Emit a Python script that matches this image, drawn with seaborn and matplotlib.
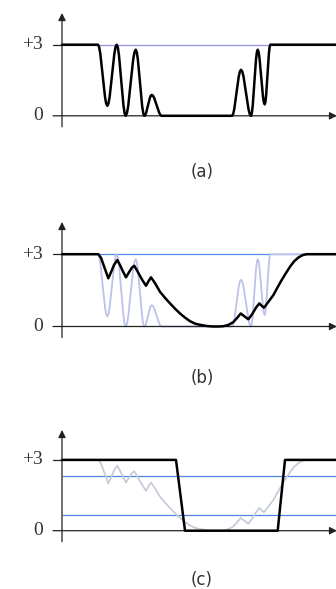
import numpy as np
import pandas as pd
import matplotlib
matplotlib.use("Agg")
import matplotlib.pyplot as plt
import seaborn as sns

# horizontal position along the signal (0 = vertical axis)
sig_a_t = [0, 36, 37.16, 38.3, 40.65, 43.0, 44.14, 45.3, 46.48, 47.65, 50.0, 52.35, 53.52, 54.7,
           55.83, 56.95, 59.2, 61.45, 62.58, 63.7, 64.95, 66.2, 68.7, 71.2, 72.45, 73.7,
           74.78, 75.85, 78.0, 80.15, 81.23, 82.3, 83.23, 84.15, 86.0, 87.85, 88.78, 89.7,
           90.95, 92.2, 94.7, 97.2, 98.45, 99.7, 170, 171.13, 172.25, 174.5, 176.75, 177.88, 179,
           180.25, 181.5, 184, 186.5, 187.75, 189, 189.84, 190.7, 192.35, 194.0, 194.86, 195.7,
           196.58, 197.45, 199.2, 200.95, 201.83, 202.7, 203.4, 204.1, 205.5, 206.9, 207.6,
           208.3, 274]
sig_a_v = [3, 3, 2.90, 2.62, 1.71, 0.80, 0.52, 0.42, 0.52, 0.80, 1.71, 2.62, 2.90, 3.0,
           2.89, 2.56, 1.5, 0.44, 0.11, 0, 0.11, 0.41, 1.40, 2.38, 2.68, 2.79,
           2.68, 2.38, 1.40, 0.41, 0.11, 0, 0.03, 0.13, 0.44, 0.75, 0.85, 0.88,
           0.85, 0.75, 0.44, 0.13, 0.03, 0, 0, 0.07, 0.28, 0.97, 1.66, 1.87, 1.94,
           1.87, 1.66, 0.97, 0.28, 0.07, 0, 0.11, 0.41, 1.40, 2.38, 2.68, 2.79,
           2.70, 2.45, 1.64, 0.82, 0.57, 0.48, 0.58, 0.85, 1.74, 2.63, 2.90,
           3, 3]

# smoothed signal
sig_b_t = [0, 36.3, 39, 42, 46.3, 49, 52, 55.3, 58, 61, 64, 67, 70, 72.3, 76, 80, 84, 86.5, 89,
           93, 98, 103, 108, 113, 118, 123, 128, 133, 138, 145, 151, 156, 161, 166, 171, 175,
           178.7, 182.5, 186.3, 190, 194, 197.3, 199.7, 202, 206, 211.3, 215.5, 219.7, 224, 228,
           232, 236.3, 240.5, 244.7, 274]
sig_b_v = [3, 3, 2.85, 2.5, 2.0, 2.25, 2.55, 2.76, 2.55, 2.28, 2.04, 2.25, 2.45, 2.52, 2.25,
           1.95, 1.69, 1.88, 2.04, 1.80, 1.44, 1.19, 0.96, 0.74, 0.54, 0.37, 0.22, 0.12, 0.07,
           0.02, 0, 0, 0.01, 0.06, 0.17, 0.35, 0.54, 0.42, 0.30, 0.50, 0.78, 0.96, 0.86, 0.78,
           1.0, 1.30, 1.62, 1.93, 2.22, 2.48, 2.70, 2.86, 2.96, 3.0, 3]

# thresholded result
sig_c_t = [0, 114, 123, 215.7, 223, 274]
sig_c_v = [3, 3, 0, 0, 3, 3]

thr_hi = 2.32
thr_lo = 0.67
top_level = 3
panel_labels = ["(a)", "(b)", "(c)"]

W, H = 336, 589
sns.set_theme(style="white")
plt.rcParams["font.family"] = ["DejaVu Sans"]
fig = plt.figure(figsize=(W / 100, H / 100), dpi=100)

# band top, band bottom, pixel of zero line, pixels per unit, arrow tip pixel
panels = [(0, 190, 115.8, 23.7, 13), (190, 390, 326.5, 24.1, 222), (390, 589, 530.7, 23.6, 430)]
ink = "#222222"
x_end = W - 62


def val(z, s, px):
    return (z - px) / s


axes = []
for top, bot, z, s, tip in panels:
    ax = fig.add_axes([0, 1 - bot / H, 1, (bot - top) / H])
    ax.set_xlim(-62, x_end)
    ax.set_ylim(val(z, s, bot), val(z, s, top))
    ax.axis("off")
    axes.append(ax)
    # vertical axis with arrow
    ax.annotate("", xy=(0, val(z, s, tip)), xytext=(0, val(z, s, z + 11)),
                arrowprops=dict(arrowstyle="-|>", color=ink, lw=0.9, mutation_scale=11,
                                shrinkA=0, shrinkB=0))
    # horizontal axis with arrow
    ax.annotate("", xy=(x_end + 1, 0), xytext=(-9, 0),
                arrowprops=dict(arrowstyle="-|>", color=ink, lw=0.9, mutation_scale=11,
                                shrinkA=0, shrinkB=0), annotation_clip=False)
    ax.plot([-9, 0], [top_level, top_level], color=ink, lw=0.9)
    ax.text(-19, top_level, "+3", ha="right", va="center", fontsize=14,
            family="Liberation Serif", color="#333333")
    ax.text(-19, 0, "0", ha="right", va="center", fontsize=14,
            family="Liberation Serif", color="#333333")

ax_a, ax_b, ax_c = axes

# (a)
ax_a.hlines(top_level, 0, x_end, color="#9494e0", lw=0.9, zorder=1)
sns.lineplot(x=sig_a_t, y=sig_a_v, ax=ax_a, color="black", lw=1.8, estimator=None, zorder=3)

# (b)
ax_b.hlines(top_level, 0, x_end, color="#4f8be6", lw=0.9, zorder=1)
sns.lineplot(x=sig_a_t, y=sig_a_v, ax=ax_b, color="#bcc2ea", lw=1.3, estimator=None, zorder=2)
sns.lineplot(x=sig_b_t, y=sig_b_v, ax=ax_b, color="black", lw=1.8, estimator=None, zorder=3)

# (c)
ax_c.hlines([thr_hi, thr_lo], 0, x_end, color="#4f84e0", lw=0.9, zorder=1)
sns.lineplot(x=sig_b_t, y=sig_b_v, ax=ax_c, color="#c4c9d8", lw=1.2, estimator=None, zorder=2)
sns.lineplot(x=sig_c_t, y=sig_c_v, ax=ax_c, color="black", lw=1.8, estimator=None, zorder=3)

label_px = [172, 378, 580]
for ax, (top, bot, z, s, tip), lab, ly in zip(axes, panels, panel_labels, label_px):
    ax.text(140, val(z, s, ly), lab, ha="center", va="center", fontsize=12, color="#333333")

fig.savefig("out.png", dpi=100)
